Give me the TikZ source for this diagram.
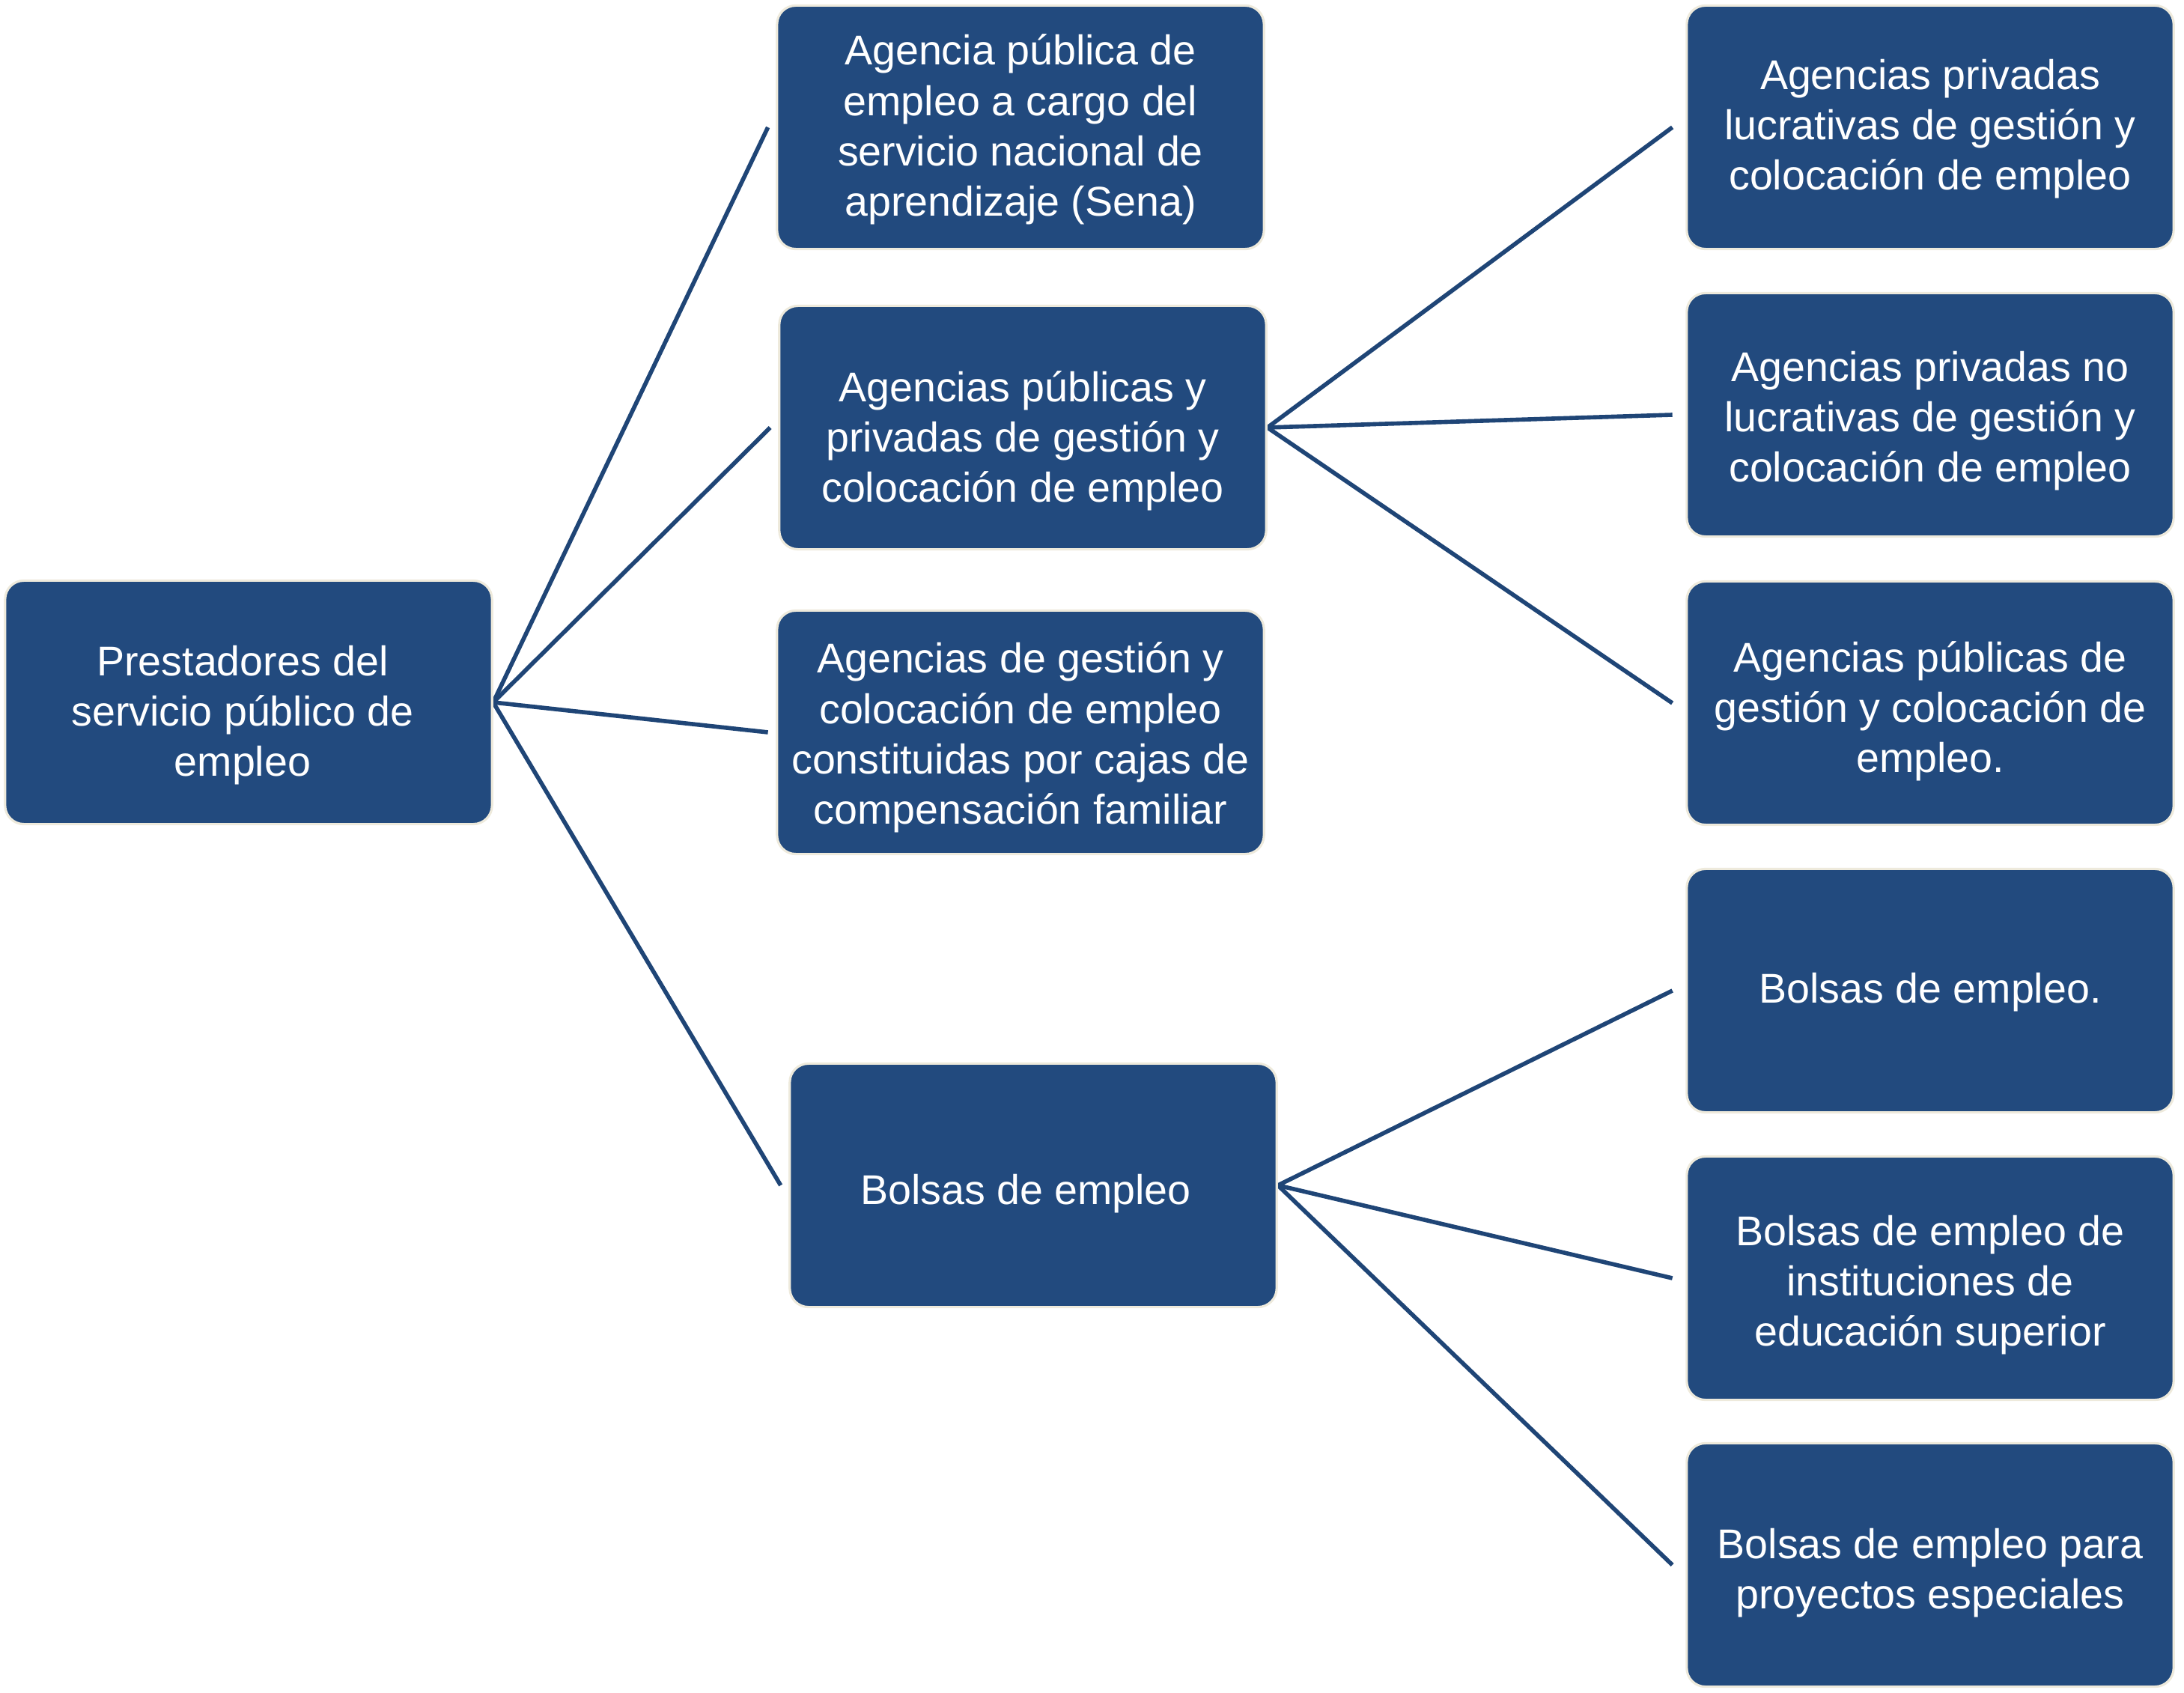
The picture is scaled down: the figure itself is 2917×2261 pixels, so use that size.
\documentclass[tikz,border=0pt]{standalone}
\usepackage{fontspec}
\setmainfont{Liberation Sans}
\usetikzlibrary{backgrounds}
\definecolor{boxblue}{RGB}{34,74,126}
\definecolor{lineblue}{RGB}{31,69,118}
\definecolor{halo}{RGB}{238,234,220}
\tikzset{
  box/.style={draw=halo, line width=0.9pt, fill=boxblue, rounded corners=0.25cm,
    minimum width=6.5cm, minimum height=3.25cm, inner sep=0pt},
  boxtext/.style={align=center, text=white, inner sep=0pt,
    font=\fontsize{15.8pt}{19.1pt}\selectfont},
  link/.style={draw=lineblue, line width=1.6pt}
}
\begin{document}
\begin{tikzpicture}[x=0.01cm, y=-0.01cm]
\useasboundingbox (0,0) rectangle (2917,2261);
\node[box, label={[boxtext, xshift=-0.08cm, yshift=-0.17cm]center:{Prestadores del\\servicio público de\\empleo}}] (root) at (332,938) {};
\node[box, label={[boxtext, yshift=-0.03cm]center:{Agencia pública de\\empleo a cargo del\\servicio nacional de\\aprendizaje (Sena)}}] (m1) at (1363,170) {};
\node[box, label={[boxtext, yshift=-0.18cm]center:{Agencias públicas y\\privadas de gestión y\\colocación de empleo}}] (m2) at (1366,571) {};
\node[box, label={[boxtext, yshift=-0.07cm]center:{Agencias de gestión y\\colocación de empleo\\constituidas por cajas de\\compensación familiar}}] (m3) at (1363,978) {};
\node[box, label={[boxtext, xshift=-0.1cm, yshift=-0.11cm]center:{Bolsas de empleo}}] (m4) at (1380,1583) {};
\node[box, label={[boxtext, yshift=-0.02cm]center:{Agencias privadas\\lucrativas de gestión y\\colocación de empleo}}] (r1) at (2578,170) {};
\node[box, label={[boxtext, yshift=-0.08cm]center:{Agencias privadas no\\lucrativas de gestión y\\colocación de empleo}}] (r2) at (2578,554) {};
\node[box, label={[boxtext, yshift=-0.11cm]center:{Agencias públicas de\\gestión y colocación de\\empleo.}}] (r3) at (2578,939) {};
\node[box, label={[boxtext, yshift=-0.02cm]center:{Bolsas de empleo.}}] (r4) at (2578,1323) {};
\node[box, label={[boxtext, yshift=-0.09cm]center:{Bolsas de empleo de\\instituciones de\\educación superior}}] (r5) at (2578,1707) {};
\node[box, label={[boxtext, yshift=-0.11cm]center:{Bolsas de empleo para\\proyectos especiales}}] (r6) at (2578,2090) {};
\begin{scope}[on background layer]
\draw[link] (root.east) -- ([xshift=-3]m1.west);
\draw[link] (root.east) -- ([xshift=-3]m2.west);
\draw[link] (root.east) -- ([xshift=-3]m3.west);
\draw[link] (root.east) -- ([xshift=-3]m4.west);
\draw[link] (m2.east) -- ([xshift=-5]r1.west);
\draw[link] (m2.east) -- ([xshift=-5]r2.west);
\draw[link] (m2.east) -- ([xshift=-5]r3.west);
\draw[link] (m4.east) -- ([xshift=-5]r4.west);
\draw[link] (m4.east) -- ([xshift=-5]r5.west);
\draw[link] (m4.east) -- ([xshift=-5]r6.west);
\end{scope}
\end{tikzpicture}
\end{document}
